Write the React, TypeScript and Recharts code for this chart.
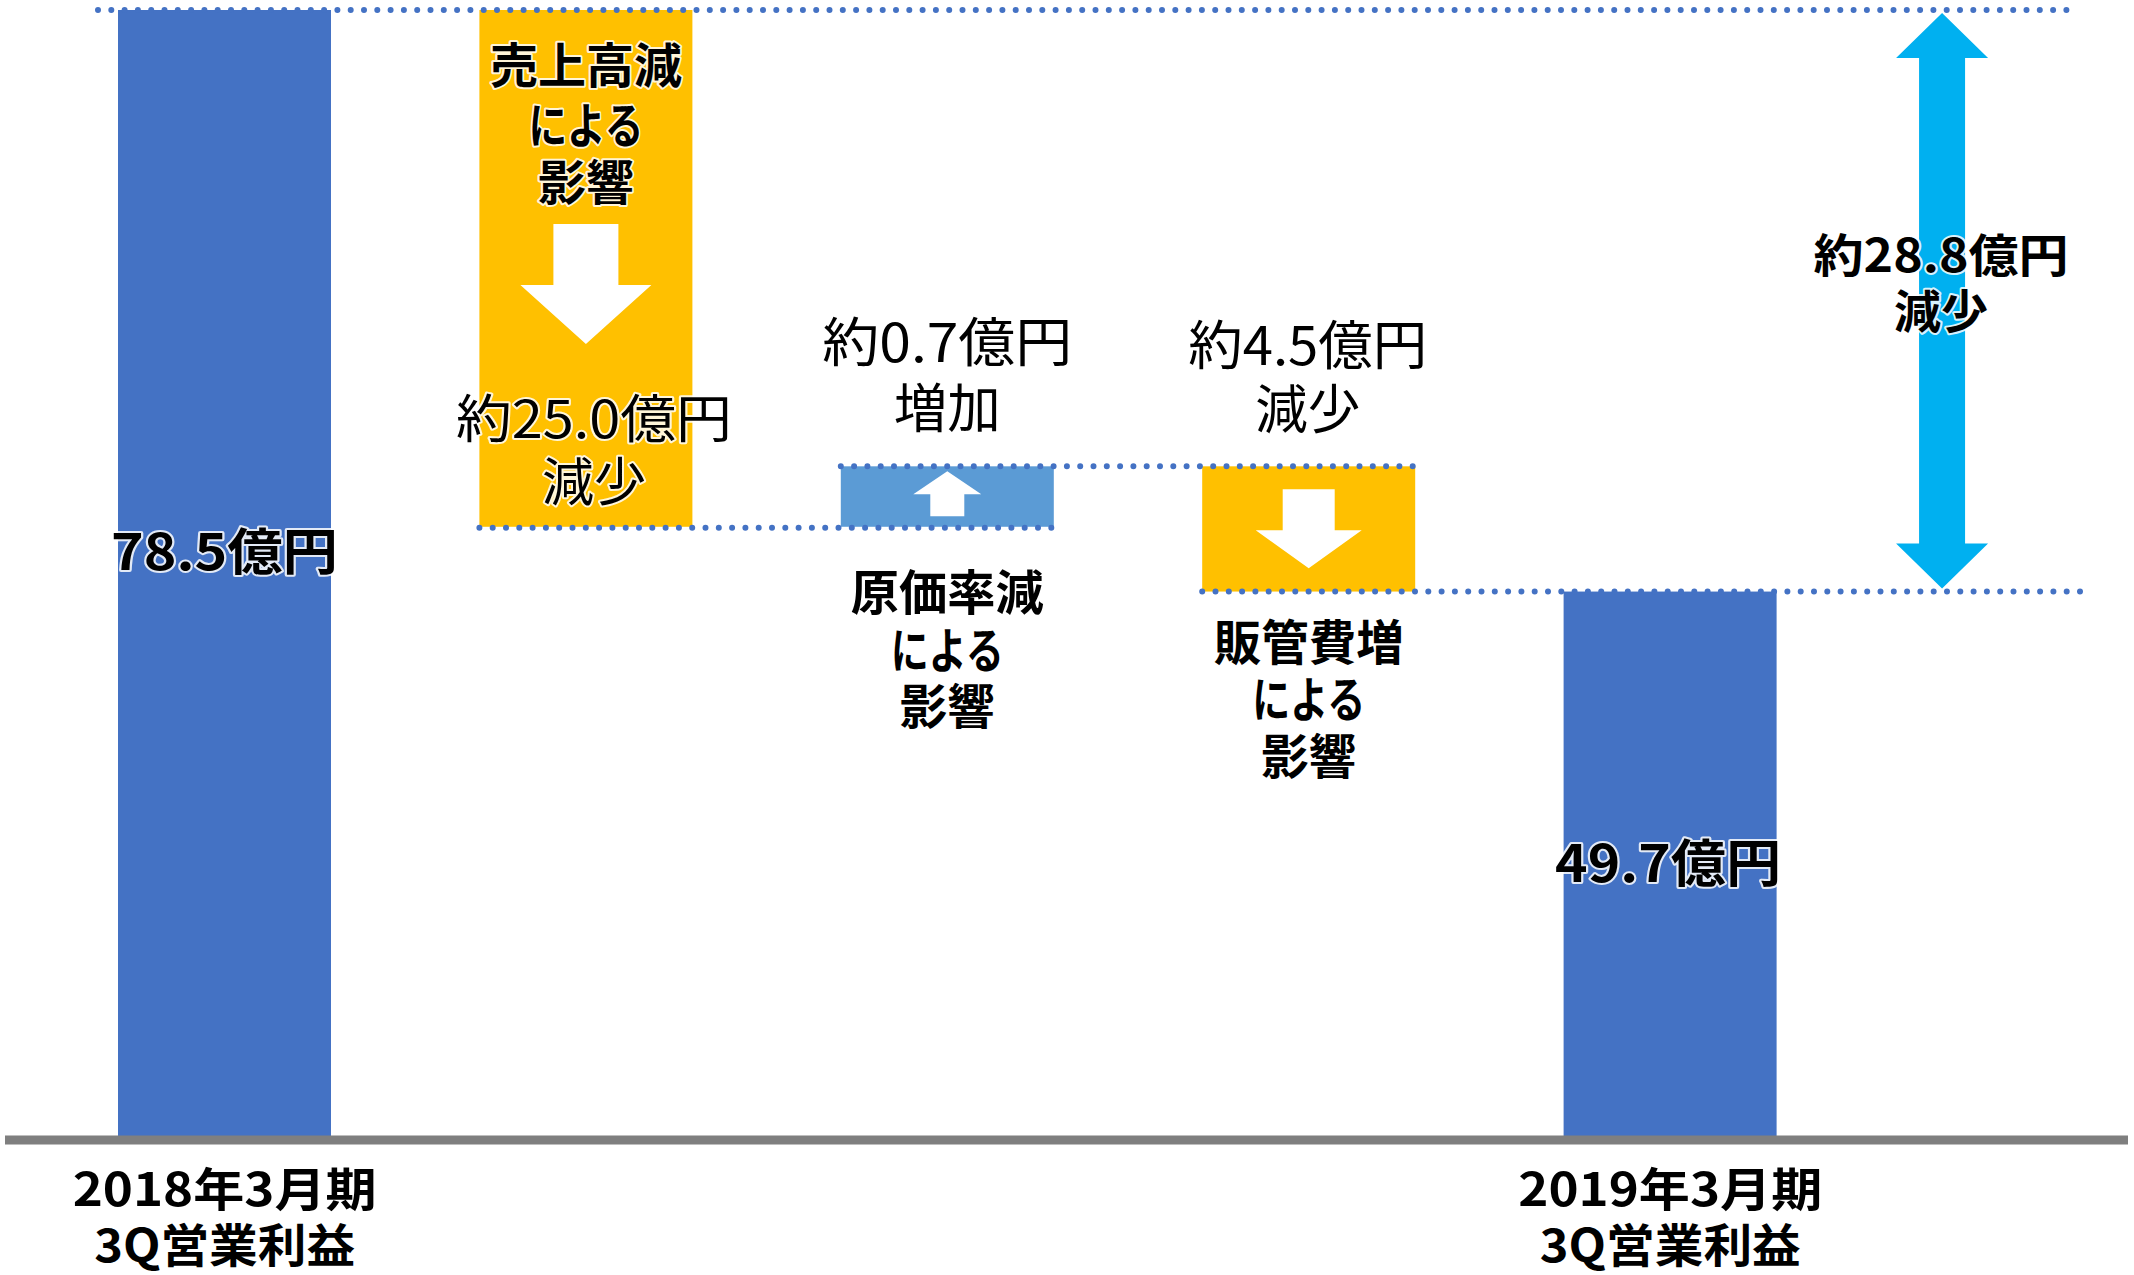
import React from 'react';
import { BarChart, Bar, XAxis, YAxis, LabelList, ReferenceArea } from 'recharts';

// ---------- data ----------
const categories = ['2018年3月期3Q営業利益', '売上高減', '原価率減', '販管費増', '2019年3月期3Q営業利益'];
// drawn bar extents (as shown in the picture's own, non-proportional scale)
const barLow = [0, 42.6, 42.6, 38.1, 0];
const barHigh = [78.5, 78.5, 46.8, 46.8, 38.1];
const valueLabels = ['78.5億円', '約25.0億円', '約0.7億円', '約4.5億円', '49.7億円'];
const changeWords = ['', '減少', '増加', '減少', ''];
const causeLines = [[], ['売上高減', 'による', '影響'], ['原価率減', 'による', '影響'], ['販管費増', 'による', '影響'], []];
const tickLine1 = ['2018年3月期', '', '', '', '2019年3月期'];
const tickLine2 = ['3Q営業利益', '', '', '', '3Q営業利益'];
const totalChangeLabel = ['約28.8億円', '減少'];
const totalChangeFrom = 78.5;
const totalChangeTo = 38.1;

const data = categories.map((name, i) => ({ name, range: [barLow[i], barHigh[i]] }));

// ---------- layout / style ----------
const W = 2134;
const H = 1275;
const PLOT_LEFT = 5;
const PLOT_RIGHT = 2128;
const PAD_L = 39;
const PAD_R = 277;
const BAR_W = 213;
const BAND = (PLOT_RIGHT - PAD_R - (PLOT_LEFT + PAD_L)) / categories.length;
const ARROW_SHIFT = 0.752; // cyan arrow offset from last bar, in bands
const FONT = "'Noto Sans CJK JP', 'Noto Sans', sans-serif";
const barColors = ['#4472C4', '#FFC000', '#5B9BD5', '#FFC000', '#4472C4'];
const DOT_COLOR = '#4472C4';
const TEXT_DY = -5;

type TProps = { x: number; y: number; text: string; size: number; bold?: boolean; len?: number };
const T = ({ x, y, text, size, bold, len }: TProps) => (
  <text
    x={x}
    y={y + TEXT_DY}
    textAnchor="middle"
    dominantBaseline="central"
    fontFamily={FONT}
    fontSize={size}
    fontWeight={bold ? 700 : 400}
    fill="#000"
    stroke="#fff"
    strokeWidth={4}
    strokeOpacity={0.85}
    strokeLinejoin="round"
    paintOrder="stroke"
    textLength={len}
    lengthAdjust={len ? 'spacingAndGlyphs' : undefined}
  >
    {text}
  </text>
);

const Dots = ({ x1, x2, y }: { x1: number; x2: number; y: number }) => (
  <line x1={x1} x2={x2} y1={y} y2={y} stroke={DOT_COLOR} strokeWidth={6} strokeLinecap="round" strokeDasharray="0 13.3" />
);

const innerArrows: Record<number, { dir: 'up' | 'down'; a: number; b: number; c: number; sh: number; hh: number }> = {
  1: { dir: 'down', a: 214, b: 275, c: 334, sh: 32.5, hh: 65.5 },
  2: { dir: 'up', a: 5, b: 28, c: 50, sh: 17, hh: 34 },
  3: { dir: 'down', a: 23, b: 64, c: 102, sh: 26, hh: 53 },
};

const BarShape = (props: any) => {
  const { x, y, width, height, index } = props;
  const top = Math.min(y, y + height);
  const h = Math.abs(height);
  const cx = x + width / 2;
  const ar = innerArrows[index];
  let arrow = null;
  if (ar) {
    let pts: number[][];
    if (ar.dir === 'down') {
      pts = [
        [cx - ar.sh, top + ar.a], [cx + ar.sh, top + ar.a], [cx + ar.sh, top + ar.b], [cx + ar.hh, top + ar.b],
        [cx, top + ar.c], [cx - ar.hh, top + ar.b], [cx - ar.sh, top + ar.b],
      ];
    } else {
      pts = [
        [cx, top + ar.a], [cx + ar.hh, top + ar.b], [cx + ar.sh, top + ar.b], [cx + ar.sh, top + ar.c],
        [cx - ar.sh, top + ar.c], [cx - ar.sh, top + ar.b], [cx - ar.hh, top + ar.b],
      ];
    }
    arrow = <polygon points={pts.map((p) => p.join(',')).join(' ')} fill="#fff" />;
  }
  return (
    <g>
      <rect x={x} y={top} width={width} height={h} fill={barColors[index]} />
      {arrow}
    </g>
  );
};

const LabelContent = (props: any) => {
  const vb = props.viewBox ?? props;
  const { x, y, width, height } = vb;
  const i: number = props.index;
  const top = Math.min(y, y + height);
  const bottom = Math.max(y, y + height);
  const cx = x + width / 2;
  const lastCenter = x + width / 2 + (categories.length - 1 - i) * BAND;
  const arrowX = lastCenter + ARROW_SHIFT * BAND;
  const nextRight = x + BAND + width;
  const els: React.ReactNode[] = [];
  if (i === 0) {
    els.push(<Dots key="d" x1={x - 20} x2={arrowX + 135} y={top} />);
    els.push(<T key="v" x={cx} y={top + 543} text={valueLabels[i]} size={50} bold len={227} />);
  } else if (i === 1) {
    els.push(<Dots key="d" x1={x} x2={nextRight} y={bottom + 1} />);
    const lens = [192, 115, 96];
    causeLines[i].forEach((t, k) =>
      els.push(<T key={'c' + k} x={cx} y={top + [57, 117, 174][k]} text={t} size={48} bold len={lens[k]} />)
    );
    els.push(<T key="v" x={cx + 8} y={bottom - 106} text={valueLabels[i]} size={52} len={276} />);
    els.push(<T key="w" x={cx + 8} y={bottom - 43} text={changeWords[i]} size={52} len={104} />);
  } else if (i === 2) {
    els.push(<Dots key="d" x1={x} x2={nextRight} y={top} />);
    els.push(<T key="v" x={cx} y={top - 122} text={valueLabels[i]} size={53} len={250} />);
    els.push(<T key="w" x={cx} y={top - 56} text={changeWords[i]} size={53} len={107} />);
    const lens = [193, 113, 95];
    causeLines[i].forEach((t, k) =>
      els.push(<T key={'c' + k} x={cx} y={bottom + [67, 125, 181][k]} text={t} size={48} bold len={lens[k]} />)
    );
  } else if (i === 3) {
    els.push(<Dots key="d" x1={x} x2={arrowX + 143} y={bottom} />);
    els.push(<T key="v" x={cx - 1} y={top - 119} text={valueLabels[i]} size={53} len={239} />);
    els.push(<T key="w" x={cx - 1} y={top - 55} text={changeWords[i]} size={53} len={105} />);
    const lens = [190, 113, 95];
    causeLines[i].forEach((t, k) =>
      els.push(<T key={'c' + k} x={cx} y={bottom + [52, 109, 166][k]} text={t} size={48} bold len={lens[k]} />)
    );
  } else if (i === 4) {
    els.push(<T key="v" x={cx - 2} y={top + 273} text={valueLabels[i]} size={51} bold len={226} />);
  }
  return <g>{els}</g>;
};

const TotalArrow = (props: any) => {
  const { x, y, width, height } = props;
  const top = Math.min(y, y + height) + 3;
  const bottom = Math.max(y, y + height) - 3;
  const cx = x + width * (0.5 + ARROW_SHIFT);
  const hl = 45;
  const hh = 46;
  const sh = 23;
  const pts = [
    [cx, top], [cx + hh, top + hl], [cx + sh, top + hl], [cx + sh, bottom - hl], [cx + hh, bottom - hl],
    [cx, bottom], [cx - hh, bottom - hl], [cx - sh, bottom - hl], [cx - sh, top + hl], [cx - hh, top + hl],
  ];
  const t0 = Math.min(y, y + height);
  return (
    <g>
      <polygon points={pts.map((p) => p.join(',')).join(' ')} fill="#00B0F0" />
      <T x={cx - 1} y={t0 + 247} text={totalChangeLabel[0]} size={46} bold len={255} />
      <T x={cx - 1} y={t0 + 303} text={totalChangeLabel[1]} size={46} bold len={94} />
    </g>
  );
};

const Tick = (props: any) => {
  const { x, y, payload } = props;
  const i = typeof props.index === 'number' ? props.index : categories.indexOf(payload?.value);
  if (!tickLine1[i]) return <g />;
  return (
    <g>
      <T x={x} y={y + 51} text={tickLine1[i]} size={46} bold len={304} />
      <T x={x} y={y + 107} text={tickLine2[i]} size={46} bold len={261} />
    </g>
  );
};

export default function App() {
  return (
    <div style={{ position: 'absolute', left: 0, top: 0, width: W, height: H, background: '#fff' }}>
      <BarChart
        width={W}
        height={H}
        data={data}
        margin={{ top: 10, right: W - PLOT_RIGHT, bottom: 0, left: PLOT_LEFT }}
      >
        <XAxis
          dataKey="name"
          height={135}
          interval={0}
          tickLine={false}
          tickSize={0}
          tickMargin={0}
          axisLine={{ stroke: '#7F7F7F', strokeWidth: 9 }}
          padding={{ left: PAD_L, right: PAD_R }}
          tick={<Tick />}
        />
        <YAxis hide type="number" domain={[0, 78.5]} allowDataOverflow />
        <ReferenceArea
          x1={categories[4]}
          x2={categories[4]}
          y1={totalChangeTo}
          y2={totalChangeFrom}
          ifOverflow="visible"
          shape={<TotalArrow />}
        />
        <Bar dataKey="range" barSize={BAR_W} isAnimationActive={false} shape={<BarShape />}>
          <LabelList dataKey="range" content={<LabelContent />} />
        </Bar>
      </BarChart>
    </div>
  );
}
